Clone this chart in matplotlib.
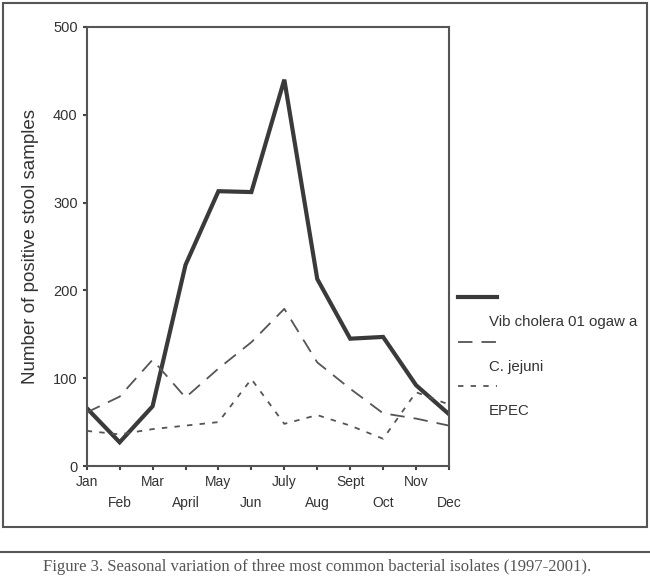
import matplotlib.pyplot as plt
from matplotlib.lines import Line2D
from matplotlib.patches import Rectangle

# Data
months = ["Jan", "Feb", "Mar", "April", "May", "Jun",
          "July", "Aug", "Sept", "Oct", "Nov", "Dec"]
vib_cholera = [66, 27, 68, 229, 313, 312, 440, 213, 145, 147, 92, 59]
c_jejuni = [61, 79, 121, 78, 111, 141, 179, 118, 88, 60, 54, 46]
epec = [40, 36, 42, 46, 50, 99, 48, 58, 46, 31, 84, 70]

series_labels = ["Vib cholera 01 ogaw a", "C. jejuni", "EPEC"]
y_ticks = [0, 100, 200, 300, 400, 500]

plt.rcParams['font.family'] = ['Liberation Sans', 'DejaVu Sans']

fig = plt.figure(figsize=(6.5, 5.79), dpi=100)
ax = fig.add_axes([86.7 / 650, 1 - 466 / 579, (449 - 86.7) / 650, (466 - 27) / 579])

x = list(range(len(months)))
ax.plot(x, vib_cholera, color="#3a3a3a", lw=3.0, solid_joinstyle="miter")
ax.plot(x, c_jejuni, color="#555555", lw=1.3, dashes=(8, 5))
ax.plot(x, epec, color="#555555", lw=1.3, dashes=(3, 4))

ax.set_xlim(0, 11)
ax.set_ylim(0, 500)
ax.set_yticks(y_ticks)
ax.set_yticklabels([str(v) for v in y_ticks], fontsize=10.5, color="#333333")
ax.set_xticks(x)
# alternate rows of month labels
ax.set_xticklabels([m if i % 2 == 0 else "\n" + m for i, m in enumerate(months)],
                   fontsize=10, color="#333333", linespacing=1.6)
ax.tick_params(axis="both", direction="out", length=3, width=1.5, color="#444444")
for s in ax.spines.values():
    s.set_color("#555555")
    s.set_linewidth(1.5)
ax.set_ylabel("Number of positive stool samples", fontsize=13.5, color="#333333", labelpad=10)

# legend drawn beside the plot
styles = [dict(color="#3a3a3a", lw=3.0),
          dict(color="#555555", lw=1.3, dashes=(8, 5)),
          dict(color="#555555", lw=1.3, dashes=(3, 4))]
sample_y = [297, 342, 386]
for lab, st, yy in zip(series_labels, styles, sample_y):
    fig.add_artist(Line2D([458 / 650, 497 / 650], [1 - yy / 579] * 2, **st))
    fig.text(489 / 650, 1 - (yy + 25) / 579, lab, fontsize=10.8, color="#333333", va="center")

# outer frame and caption rules
fig.add_artist(Rectangle((3 / 650, 1 - 527 / 579), 644 / 650, 524 / 579, fill=False,
                         edgecolor="#555555", lw=1.5))
fig.add_artist(Line2D([0, 1], [1 - 552 / 579] * 2, color="#555555", lw=1.5))
fig.text(317 / 650, 1 - 567 / 579,
         "Figure 3. Seasonal variation of three most common bacterial isolates (1997-2001).",
         ha="center", va="center", fontsize=12, color="#555555",
         family=["Liberation Serif", "DejaVu Serif"])

fig.savefig("out.png", dpi=100)
